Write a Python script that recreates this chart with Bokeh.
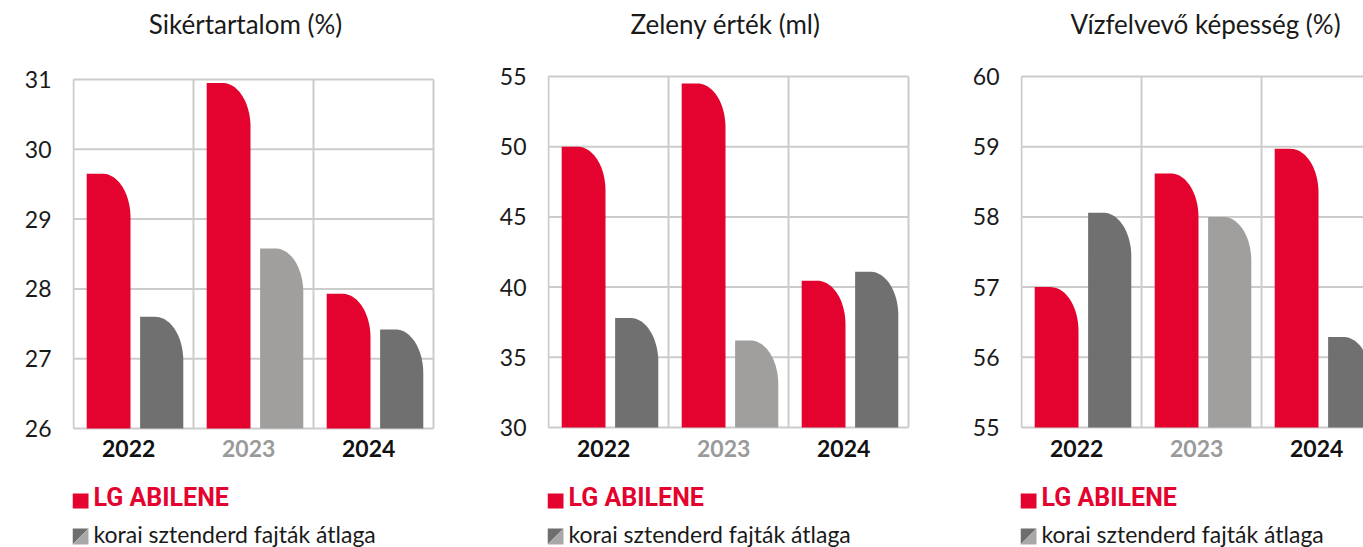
import math
from bokeh.plotting import figure
from bokeh.layouts import row
from bokeh.models import Range1d, FixedTicker, ColumnDataSource
from bokeh.core.properties import value
from bokeh.embed import file_html
from bokeh.resources import INLINE

# ---------------- data ----------------
years = ["2022", "2023", "2024"]
titles = ["Sikértartalom (%)", "Zeleny érték (ml)", "Vízfelvevő képesség (%)"]
series_names = ["LG ABILENE", "korai sztenderd fajták átlaga"]

sikertartalom_abilene = [29.65, 30.95, 27.93]
sikertartalom_standard = [27.60, 28.58, 27.42]
zeleny_abilene = [50.0, 54.5, 40.45]
zeleny_standard = [37.8, 36.2, 41.1]
vizfelvevo_abilene = [57.0, 58.62, 58.97]
vizfelvevo_standard = [58.06, 58.0, 56.29]

y_limits = [(26, 31), (30, 55), (55, 60)]
y_tick_values = [[26, 27, 28, 29, 30, 31],
                 [30, 35, 40, 45, 50, 55],
                 [55, 56, 57, 58, 59, 60]]

# ---------------- style ----------------
RED = "#E4032E"
GRAY_BY_YEAR = ["#707070", "#A09F9E", "#707070"]
YEAR_COLORS = ["#111111", "#9A9A9A", "#111111"]
GRID = "#CCCCCC"
TXT = "#1a1a1a"
FONT = "Lato"
COND = "Roboto"

PX_PER_CAT = 120.0
H = 547
BASE_SHIFT = 0.43  # empirical correction of the alphabetic baseline (em)
# canvas offset, plot-area top, plot-area height, canvas width, visible categories
layouts = [
    dict(off=0, top=79, fh=349, w=475, ncat=3),
    dict(off=475, top=76, fh=351, w=473, ncat=3),
    dict(off=948, top=76, fh=351, w=415, ncat=342 / 120.0),
]
title_centers = [245, 725, 1205]

panels = [
    (titles[0], sikertartalom_abilene, sikertartalom_standard),
    (titles[1], zeleny_abilene, zeleny_standard),
    (titles[2], vizfelvevo_abilene, vizfelvevo_standard),
]


def bar_shape(x0, x1, y0, top, rx, ry, n=28):
    cx, cy = x1 - rx, top - ry
    xs = [x0, x0]
    ys = [y0, top]
    for k in range(n + 1):
        t = (math.pi / 2) * k / n
        xs.append(cx + rx * math.sin(t))
        ys.append(cy + ry * math.cos(t))
    xs.append(x1)
    ys.append(y0)
    return xs, ys


figs = []
for idx, (title, red_vals, gray_vals) in enumerate(panels):
    L = layouts[idx]
    y0, y1 = y_limits[idx]
    ppu = L["fh"] / (y1 - y0)
    area_left = L["off"] + 73          # absolute x of category 0
    area_bottom = L["top"] + L["fh"]   # absolute y of y0
    frame_left_px = 72
    ncat = L["ncat"]

    x_start = -1.0 / PX_PER_CAT
    frame_w = L["w"] - frame_left_px
    x_end = x_start + frame_w / PX_PER_CAT
    y_start = y0 - (H - area_bottom) / ppu
    y_end = y1 + L["top"] / ppu

    def sx(abs_x):
        return (abs_x - area_left) / PX_PER_CAT

    def sy(abs_y):
        return y0 + (area_bottom - abs_y) / ppu

    def sy_text(abs_baseline, font_px):
        return sy(abs_baseline - BASE_SHIFT * font_px)

    p = figure(width=L["w"], height=H, output_backend="svg", toolbar_location=None,
               x_range=Range1d(x_start, x_end), y_range=Range1d(y_start, y_end),
               min_border_left=frame_left_px, min_border_right=0,
               min_border_top=0, min_border_bottom=0,
               x_axis_location=None, tools="")
    p.background_fill_color = "white"
    p.border_fill_color = "white"
    p.outline_line_color = None
    p.xgrid.visible = False
    p.ygrid.visible = False

    # y axis
    yax = p.yaxis[0]
    yax.ticker = FixedTicker(ticks=y_tick_values[idx])
    yax.axis_line_color = None
    yax.major_tick_line_color = None
    yax.minor_tick_line_color = None
    yax.major_label_standoff = 15
    yax.major_label_text_font = FONT
    yax.major_label_text_font_size = "23px"
    yax.major_label_text_color = TXT

    # grid lines restricted to the plotting area
    h_ticks = y_tick_values[idx]
    p.segment(x0=[0] * len(h_ticks), x1=[ncat] * len(h_ticks), y0=h_ticks, y1=h_ticks,
              line_color=GRID, line_width=2)
    v_pos = [k for k in range(4) if k <= ncat]
    p.segment(x0=v_pos, x1=v_pos, y0=[y0] * len(v_pos), y1=[y1] * len(v_pos),
              line_color=GRID, line_width=2)

    # bars
    rx = 28.0 / PX_PER_CAT
    ry = 44.0 / ppu
    xs_all, ys_all, cols = [], [], []
    for i in range(len(years)):
        xs, ys = bar_shape(i + 0.11, i + 0.475, y0, red_vals[i], rx, ry)
        xs_all.append(xs); ys_all.append(ys); cols.append(RED)
        xs, ys = bar_shape(i + 0.555, i + 0.915, y0, gray_vals[i], rx, ry)
        xs_all.append(xs); ys_all.append(ys); cols.append(GRAY_BY_YEAR[i])
    src = ColumnDataSource(dict(xs=xs_all, ys=ys_all, c=cols))
    p.patches("xs", "ys", source=src, fill_color="c", line_color=None)

    # year labels
    ysrc = ColumnDataSource(dict(x=[i + 0.46 for i in range(len(years))],
                                 y=[sy_text(458, 23)] * len(years), t=years, c=YEAR_COLORS))
    p.text("x", "y", text="t", source=ysrc, text_color="c", text_align="center",
           text_baseline="alphabetic", text_font=value(FONT),
           text_font_size="23px", text_font_style="bold")

    # title
    p.text(x=[sx(title_centers[idx])], y=[sy_text(35, 26)], text=[title],
           text_align="center", text_baseline="alphabetic", text_font=value(FONT),
           text_font_size="26px", text_color=TXT)

    # legend
    lx0, lx1 = sx(area_left - 1), sx(area_left + 15)
    p.patch([lx0, lx1, lx1, lx0], [sy(493), sy(493), sy(508), sy(508)],
            fill_color=RED, line_color=None)
    gy0, gy1 = sy(528), sy(544)
    p.patch([lx0, lx1, lx0], [gy0, gy0, gy1], fill_color="#6E6E6E", line_color=None)
    p.patch([lx1, lx1, lx0], [gy0, gy1, gy1], fill_color="#A8A8A8", line_color=None)
    p.text(x=[sx(area_left + 20)], y=[sy_text(508, 25)], text=[series_names[0]],
           text_align="left", text_baseline="alphabetic", text_font=value(COND),
           text_font_size="25px", text_font_style="bold", text_color=RED)
    p.text(x=[sx(area_left + 20)], y=[sy_text(543, 23)], text=[series_names[1]],
           text_align="left", text_baseline="alphabetic", text_font=value(FONT),
           text_font_size="23px", text_color=TXT)
    figs.append(p)

layout = row(*figs, spacing=0)
open("out.html", "w").write(file_html(layout, INLINE))
